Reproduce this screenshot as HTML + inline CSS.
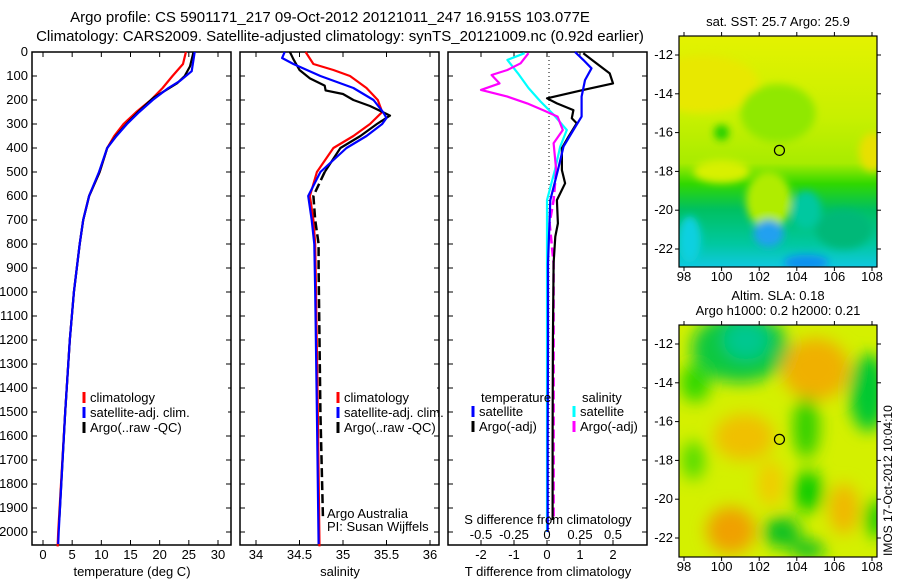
<!DOCTYPE html>
<html><head><meta charset="utf-8"><style>
html,body{margin:0;padding:0;background:#fff;}
svg{display:block;font-family:"Liberation Sans",sans-serif;font-size:13px;}
</style></head><body>
<svg id="s" width="900" height="580" viewBox="0 0 900 580" xmlns="http://www.w3.org/2000/svg">
<defs>
<filter id="blur" x="-50%" y="-50%" width="200%" height="200%"><feGaussianBlur stdDeviation="8"/></filter>
<filter id="blur2" x="-50%" y="-50%" width="200%" height="200%"><feGaussianBlur stdDeviation="4"/></filter>
<clipPath id="c1"><rect x="679" y="36" width="198" height="231"/></clipPath>
<clipPath id="c2"><rect x="679" y="325" width="198" height="232"/></clipPath>
<linearGradient id="g1" x1="0" y1="0" x2="0" y2="1">
<stop offset="0" stop-color="#e4f200"/><stop offset="0.35" stop-color="#c8f000"/><stop offset="0.55" stop-color="#a8ec00"/><stop offset="0.64" stop-color="#30d800"/><stop offset="0.75" stop-color="#00c060"/><stop offset="0.9" stop-color="#00c8a0"/><stop offset="1" stop-color="#10c8e0"/>
</linearGradient>
</defs>
<g>
<text x="330" y="22" text-anchor="middle" font-size="15">Argo profile: CS 5901171_217 09-Oct-2012 20121011_247 16.915S 103.077E</text>
<text x="340" y="41" text-anchor="middle" font-size="15">Climatology: CARS2009. Satellite-adjusted climatology: synTS_20121009.nc (0.92d earlier)</text>
</g>
<g id="plots"></g>
<g id="maps"></g>
</svg>
<script>
// ---------- data ----------
const tClimDepth=[0,50,100,150,200,250,300,350,400,500,600,700,800,1000,1200,1500,2000,2060];
const tClimVal=[24.5,24.0,22.2,20.5,18.5,16.0,13.8,12.2,11.0,9.7,7.9,6.9,6.3,5.3,4.6,3.8,2.6,2.5];
const tSatDepth=[0,80,120,150,200,250,300,350,400,500,600,700,800,1000,1200,1500,2000,2050];
const tSatVal=[26.0,25.5,23.5,21.5,18.8,16.5,14.4,12.6,11.0,9.6,7.9,6.9,6.3,5.3,4.6,3.8,2.7,2.6];
const tArgoDepth=[0,60,100,130,160,190,200,250,300,350,400,500,600,700,800,1000,1200,1500,1950];
const tArgoVal=[25.8,25.2,24.3,23.0,21.0,19.0,18.5,16.3,14.3,12.5,11.0,9.7,7.9,6.9,6.3,5.3,4.6,3.8,2.8];

const sClimDepth=[0,50,75,100,150,200,250,300,350,400,500,600,700,800,1000,1500,2060];
const sClimVal=[34.57,34.66,34.89,35.08,35.27,35.40,35.45,35.31,35.12,34.89,34.70,34.62,34.66,34.68,34.69,34.71,34.73];
const sSatDepth=[0,25,50,100,150,200,250,275,300,350,400,500,600,700,800,1000,1500,2050];
const sSatVal=[34.33,34.30,34.43,34.74,35.12,35.35,35.46,35.50,35.45,35.27,35.04,34.74,34.60,34.64,34.67,34.68,34.70,34.72];
const sArgoDepth=[0,30,75,110,140,160,175,200,225,265,300,350,400,500,600,700,800,900,1500,1950];
const sArgoVal=[34.39,34.43,34.50,34.62,34.79,34.80,35.00,35.12,35.31,35.54,35.39,35.20,34.97,34.79,34.66,34.68,34.72,34.72,34.74,34.77];

const dtSatDepth=[0,33,68,117,186,269,325,394,492,617,880,1200,1600,2000];
const dtSatVal=[0.85,1.1,1.35,1.15,1.05,1.05,0.8,0.5,0.33,0.1,0.03,0.03,0.02,0.02];
const dtArgoDepth=[5,33,89,131,158,193,214,242,276,297,353,401,492,547,617,714,769,880,1200,1600,1950];
const dtArgoVal=[1.1,1.36,1.9,2.0,1.1,0.0,0.3,0.8,0.75,0.9,0.65,0.45,0.45,0.55,0.3,0.33,0.25,0.2,0.18,0.17,0.17];
const dsSatDepth=[5,33,89,150,206,261,325,394,492,617,880,1200,1600,2000];
const dsSatVal=[-0.17,-0.30,-0.22,-0.14,-0.05,0.05,0.15,0.10,0.06,0.0,0.0,0.0,0.0,0.0];
const dsArgoDepth=[5,47,75,96,131,158,186,214,242,269,325,380,492,617,714,880,1200,1600,1950];
const dsArgoVal=[-0.14,-0.20,-0.30,-0.42,-0.36,-0.50,-0.30,-0.15,-0.03,0.08,0.12,0.05,0.07,0.05,0.02,0.05,0.05,0.05,0.05];

const depthTicks=[0,100,200,300,400,500,600,700,800,900,1000,1100,1200,1300,1400,1500,1600,1700,1800,1900,2000];
const tTicks=[0,5,10,15,20,25,30];
const sTicks=[34,34.5,35,35.5,36];
const dtTicks=[-2,-1,0,1,2];
const dsTicks=[-0.5,-0.25,0,0.25,0.5];
const dsTickLabels=['-0.5','-0.25','0','0.25','0.5'];
const latTicks=[-12,-14,-16,-18,-20,-22];
const lonTicks=[98,100,102,104,106,108];

// ---------- helpers ----------
const NS='http://www.w3.org/2000/svg';
const root=document.getElementById('plots');
function mk(tag,attrs,parent,txt){const e=document.createElementNS(NS,tag);for(const k in attrs)e.setAttribute(k,attrs[k]);if(txt!==undefined)e.textContent=txt;(parent||root).appendChild(e);return e;}
const Y0=52, PY=0.24;
const yD=d=>Y0+d*PY;
const xT=v=>43+v*5.833;
const xS=v=>256+(v-34)*87;
const xDT=v=>547+v*33;
const xDS=v=>547+v*132;
const PT=545;
function pathStr(ds,vs,fx){return ds.map((d,i)=>(i?'L':'M')+fx(vs[i]).toFixed(1)+','+yD(d).toFixed(1)).join('');}
function frame(x0,x1,name){
  const g=mk('g',{});
  mk('rect',{x:x0,y:Y0,width:x1-x0,height:PT-Y0,fill:'#fff',stroke:'#000','stroke-width':1.5},g);
  depthTicks.forEach(d=>{mk('line',{x1:x0,x2:x0+5,y1:yD(d),y2:yD(d),stroke:'#000'},g);mk('line',{x1:x1,x2:x1-5,y1:yD(d),y2:yD(d),stroke:'#000'},g);});
  return g;
}
function series(g,ds,vs,fx,color,name,dash,split){
  if(split===undefined){
    const p=mk('path',{d:pathStr(ds,vs,fx),fill:'none',stroke:color,'stroke-width':2.2,'stroke-linejoin':'round'},g);
    if(dash)p.setAttribute('stroke-dasharray',dash);
    
    
    return;
  }
  let k=ds.findIndex(d=>d>=split); if(k<0)k=ds.length-1;
  const p1=mk('path',{d:pathStr(ds.slice(0,k+1),vs.slice(0,k+1),fx),fill:'none',stroke:color,'stroke-width':2.2,'stroke-linejoin':'round'},g);
  
  
  const p2=mk('path',{d:pathStr(ds.slice(k),vs.slice(k),fx),fill:'none',stroke:color,'stroke-width':2.5,'stroke-dasharray':dash},g);
  
  
}
function xticks(g,ticks,fx,labels,ly){
  ticks.forEach((v,i)=>{const x=fx(v);mk('line',{x1:x,x2:x,y1:PT,y2:PT-5,stroke:'#000'},g);mk('line',{x1:x,x2:x,y1:Y0,y2:Y0+5,stroke:'#000'},g);
    mk('text',{x:x,y:ly,'text-anchor':'middle'},g,labels?labels[i]:String(v));});
}
function legend(g,x,y,items){
  items.forEach((it,i)=>{const yy=y+i*15;mk('line',{x1:x,x2:x,y1:yy-10,y2:yy+1,stroke:it[0],'stroke-width':3},g);mk('text',{x:x+6,y:yy},g,it[1]);});
}

// ---------- panel 1 ----------
const g1=frame(32,231,'temperature-panel');
depthTicks.forEach(d=>mk('text',{x:28,y:yD(d)+4,'text-anchor':'end'},g1,String(d)));
xticks(g1,tTicks,xT,null,559);
mk('text',{x:132,y:576,'text-anchor':'middle'},g1,'temperature (deg C)');
series(g1,tClimDepth,tClimVal,xT,'#ff0000','temp-climatology-line');
series(g1,tArgoDepth,tArgoVal,xT,'#000000','temp-argo-line');
series(g1,tSatDepth,tSatVal,xT,'#0000ff','temp-satellite-line');
const l1=mk('g',{},g1);
mk('rect',{x:78,y:386,width:150,height:48,fill:'#fff'},l1);
legend(l1,84,402,[['#ff0000','climatology'],['#0000ff','satellite-adj. clim.'],['#000','Argo(..raw -QC)']]);

// ---------- panel 2 ----------
const g2=frame(240,439,'salinity-panel');
xticks(g2,sTicks,xS,null,559);
mk('text',{x:340,y:576,'text-anchor':'middle'},g2,'salinity');
series(g2,sClimDepth,sClimVal,xS,'#ff0000','sal-climatology-line');
series(g2,sArgoDepth,sArgoVal,xS,'#000000','sal-argo-line','9,4',450);
series(g2,sSatDepth,sSatVal,xS,'#0000ff','sal-satellite-line');
const l2=mk('g',{},g2);
mk('rect',{x:332,y:386,width:105,height:48,fill:'#fff'},l2);
legend(l2,338,402,[['#ff0000','climatology'],['#0000ff','satellite-adj. clim.'],['#000','Argo(..raw -QC)']]);
mk('text',{x:327,y:518},g2,'Argo Australia');
mk('text',{x:327,y:531},g2,'PI: Susan Wijffels');

// ---------- panel 3 ----------
const g3=frame(448,647,'difference-panel');
mk('line',{x1:549,x2:549,y1:Y0,y2:PT,stroke:'#000','stroke-dasharray':'1,3'},g3);
dtTicks.forEach(v=>{const x=xDT(v);mk('line',{x1:x,x2:x,y1:PT,y2:PT-5,stroke:'#000'},g3);mk('line',{x1:x,x2:x,y1:Y0,y2:Y0+5,stroke:'#000'},g3);mk('text',{x:x,y:559,'text-anchor':'middle'},g3,String(v));});
series(g3,dsSatDepth,dsSatVal,xDS,'#00ffff','sal-diff-satellite-line');
series(g3,dsArgoDepth,dsArgoVal,xDS,'#ff00ff','sal-diff-argo-line','9,4',450);
series(g3,dtArgoDepth,dtArgoVal,xDT,'#000000','temp-diff-argo-line');
series(g3,dtSatDepth,dtSatVal,xDT,'#0000ff','temp-diff-satellite-line');
dsTicks.forEach((v,i)=>{const x=xDS(v);mk('text',{x:x,y:539,'text-anchor':'middle'},g3,dsTickLabels[i]);});
mk('text',{x:548,y:576,'text-anchor':'middle'},g3,'T difference from climatology');
mk('text',{x:548,y:524,'text-anchor':'middle'},g3,'S difference from climatology');
const l3=mk('g',{},g3);
mk('rect',{x:476,y:388,width:68,height:46,fill:'#fff'},l3);
mk('rect',{x:578,y:388,width:66,height:46,fill:'#fff'},l3);
mk('text',{x:481,y:402},l3,'temperature');
legend(l3,473,416,[['#0000ff','satellite'],['#000','Argo(-adj)']]);
mk('text',{x:582,y:402},l3,'salinity');
legend(l3,574,416,[['#00ffff','satellite'],['#ff00ff','Argo(-adj)']]);

// ---------- maps ----------
const mroot=document.getElementById('maps');
function mapAxes(top,bot,name){
  const g=mk('g',{},mroot);
  const lat=v=>top+19+(-12-v)*19.4; const lon=v=>684+(v-98)*18.8;
  return {g,lat,lon,top,bot};
}
function finishAxes(m){
  const g=m.g;
  mk('rect',{x:679,y:m.top,width:198,height:m.bot-m.top,fill:'none',stroke:'#000','stroke-width':1.2},g);
  latTicks.forEach(v=>{const y=m.lat(v);mk('line',{x1:679,x2:675,y1:y,y2:y,stroke:'#000'},g);mk('line',{x1:877,x2:881,y1:y,y2:y,stroke:'#000'},g);mk('text',{x:673,y:y+4,'text-anchor':'end'},g,String(v));});
  lonTicks.forEach(v=>{const x=m.lon(v);mk('line',{x1:x,x2:x,y1:m.bot,y2:m.bot+4,stroke:'#000'},g);mk('line',{x1:x,x2:x,y1:m.top,y2:m.top-4,stroke:'#000'},g);mk('text',{x:x,y:m.bot+14,'text-anchor':'middle'},g,String(v));});
  mk('circle',{cx:m.lon(103.077),cy:m.lat(-16.915),r:5,fill:'none',stroke:'#000','stroke-width':1.2},g);
}
const m1=mapAxes(36,267,'sst-map');
mk('text',{x:778,y:26,'text-anchor':'middle'},m1.g,'sat. SST: 25.7 Argo: 25.9');
const f1=mk('g',{'clip-path':'url(#c1)'},m1.g);
mk('rect',{x:679,y:36,width:198,height:231,fill:'url(#g1)'},f1);
const bl1=mk('g',{filter:'url(#blur2)'},f1);
[[99,-13.5,3,1.5,'#e8e800'],[103,-15,2,1.5,'#90e800'],[100,-18,1.5,0.6,'#d8f000'],[102.5,-19.5,1.2,1.5,'#b0ec00'],[108,-17,0.7,1,'#e8e000'],[102.5,-21.2,0.8,0.7,'#20a0f0'],[104.5,-22.7,1.2,0.4,'#1090f0'],[98.3,-21.5,0.6,1.2,'#10d0e0'],[104.5,-20,0.8,1,'#00c8a0'],[100,-16,0.4,0.4,'#20d000'],[106.5,-21,1.5,1,'#00b878']].forEach(b=>{
  mk('ellipse',{cx:m1.lon(b[0]),cy:m1.lat(b[1]),rx:b[2]*18.8,ry:b[3]*19.4,fill:b[4]},bl1);});
finishAxes(m1);
const m2=mapAxes(325,557,'sla-map');
mk('text',{x:778,y:300,'text-anchor':'middle'},m2.g,'Altim. SLA: 0.18');
mk('text',{x:778,y:315,'text-anchor':'middle'},m2.g,'Argo h1000: 0.2 h2000: 0.21');
const f2=mk('g',{'clip-path':'url(#c2)'},m2.g);
mk('rect',{x:679,y:325,width:198,height:232,fill:'#d4f000'},f2);
const bl2=mk('g',{filter:'url(#blur)'},f2);
[[101,-12.2,2.6,1.8,'#10c840'],[101.3,-11.8,1.2,1,'#00c890'],[98.6,-14,0.8,1,'#30d800'],[105,-13.3,1.8,1.6,'#f0b000'],[107.8,-14.5,1,2,'#00c830'],[101.2,-16.8,1.6,1.2,'#f0c000'],[104.5,-16.3,0.7,1.6,'#30d000'],[98.5,-18,0.6,1,'#50dc00'],[104.6,-19.6,0.8,1.1,'#10cc00'],[106.5,-20.5,0.8,1.3,'#f0b800'],[100.5,-21.6,1.3,1.2,'#f0a000'],[103.2,-21.7,1,0.8,'#10c020'],[104.6,-22.6,0.9,0.5,'#10c020'],[108.2,-21,0.6,1,'#20d000'],[102.6,-19.2,0.7,1.2,'#f0cc00']].forEach(b=>{
  mk('ellipse',{cx:m2.lon(b[0]),cy:m2.lat(b[1]),rx:b[2]*18.8,ry:b[3]*19.4,fill:b[4]},bl2);});
finishAxes(m2);
const dt=mk('text',{x:892,y:556,transform:'rotate(-90 892 556)','font-size':'12'},mroot,'IMOS 17-Oct-2012 10:04:10');


</script>
</body></html>
